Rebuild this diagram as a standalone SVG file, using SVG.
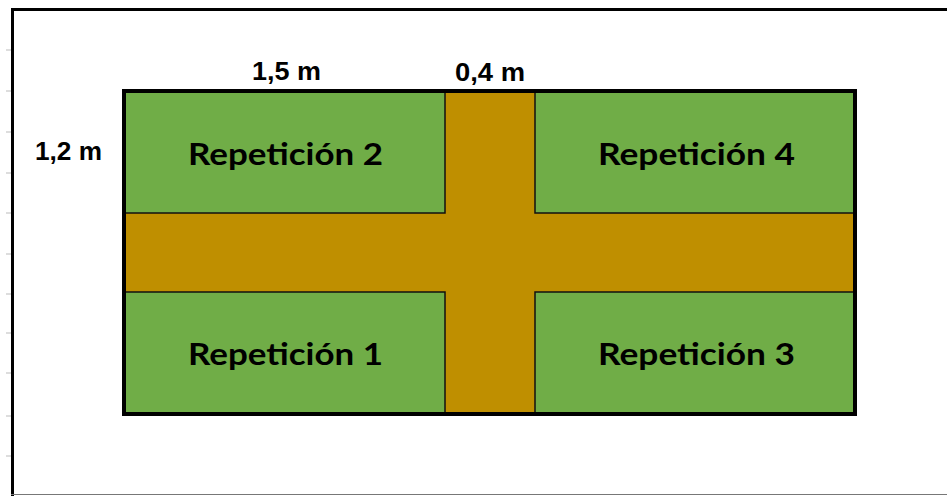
<svg xmlns="http://www.w3.org/2000/svg" width="947" height="496" viewBox="0 0 947 496">
  <style>
    .quad { fill: #70AD47; stroke: #111; stroke-width: 1.5; }
    .lbl { font-family: "Liberation Sans", Arial, sans-serif; font-weight: bold; fill: #000; }
    .dim { font-size: 25px; }
    .rep { font-family: Lato, "Liberation Sans", sans-serif; font-size: 30px; }
    .tick { stroke: #bbb; stroke-width: 1; }
  </style>
  <rect x="0" y="0" width="947" height="496" fill="#fff"/>
  <g id="frame">
    <line x1="11" y1="9.5" x2="947" y2="9.5" stroke="#000" stroke-width="3"/>
    <line x1="12.5" y1="8" x2="12.5" y2="496" stroke="#000" stroke-width="3"/>
    <line x1="11" y1="494.5" x2="947" y2="494.5" stroke="#777" stroke-width="1.2"/>
    <g class="tick">
      <line x1="6" y1="50" x2="11" y2="50"/>
      <line x1="6" y1="91" x2="11" y2="91"/>
      <line x1="6" y1="132" x2="11" y2="132"/>
      <line x1="6" y1="173" x2="11" y2="173"/>
      <line x1="6" y1="213" x2="11" y2="213"/>
      <line x1="6" y1="254" x2="11" y2="254"/>
      <line x1="6" y1="294" x2="11" y2="294"/>
      <line x1="6" y1="333" x2="11" y2="333"/>
      <line x1="6" y1="373" x2="11" y2="373"/>
      <line x1="6" y1="416" x2="11" y2="416"/>
      <line x1="6" y1="456" x2="11" y2="456"/>
    </g>
  </g>
  <g id="field">
    <rect x="124" y="91" width="731" height="323" fill="#BF8F00"/>
  </g>
  <g id="rep2">
    <rect class="quad" x="124" y="91" width="321" height="122"/>
    <text class="lbl rep" x="188" y="165" textLength="195" lengthAdjust="spacingAndGlyphs">Repetición 2</text>
  </g>
  <g id="rep4">
    <rect class="quad" x="535" y="91" width="320" height="122"/>
    <text class="lbl rep" x="598" y="165" textLength="197" lengthAdjust="spacingAndGlyphs">Repetición 4</text>
  </g>
  <g id="rep1">
    <rect class="quad" x="124" y="292" width="321" height="122"/>
    <text class="lbl rep" x="188" y="365" textLength="195" lengthAdjust="spacingAndGlyphs">Repetición 1</text>
  </g>
  <g id="rep3">
    <rect class="quad" x="535" y="292" width="320" height="122"/>
    <text class="lbl rep" x="598" y="365" textLength="197" lengthAdjust="spacingAndGlyphs">Repetición 3</text>
  </g>
  <g id="border">
    <rect x="124" y="91" width="731" height="323" fill="none" stroke="#000" stroke-width="4"/>
  </g>
  <g id="connectors"></g>
  <g id="dims">
    <text class="lbl dim" x="252" y="80" textLength="69" lengthAdjust="spacingAndGlyphs">1,5 m</text>
    <text class="lbl dim" x="455" y="81" textLength="70" lengthAdjust="spacingAndGlyphs">0,4 m</text>
    <text class="lbl dim" x="35" y="160" textLength="67" lengthAdjust="spacingAndGlyphs">1,2 m</text>
  </g>
</svg>
